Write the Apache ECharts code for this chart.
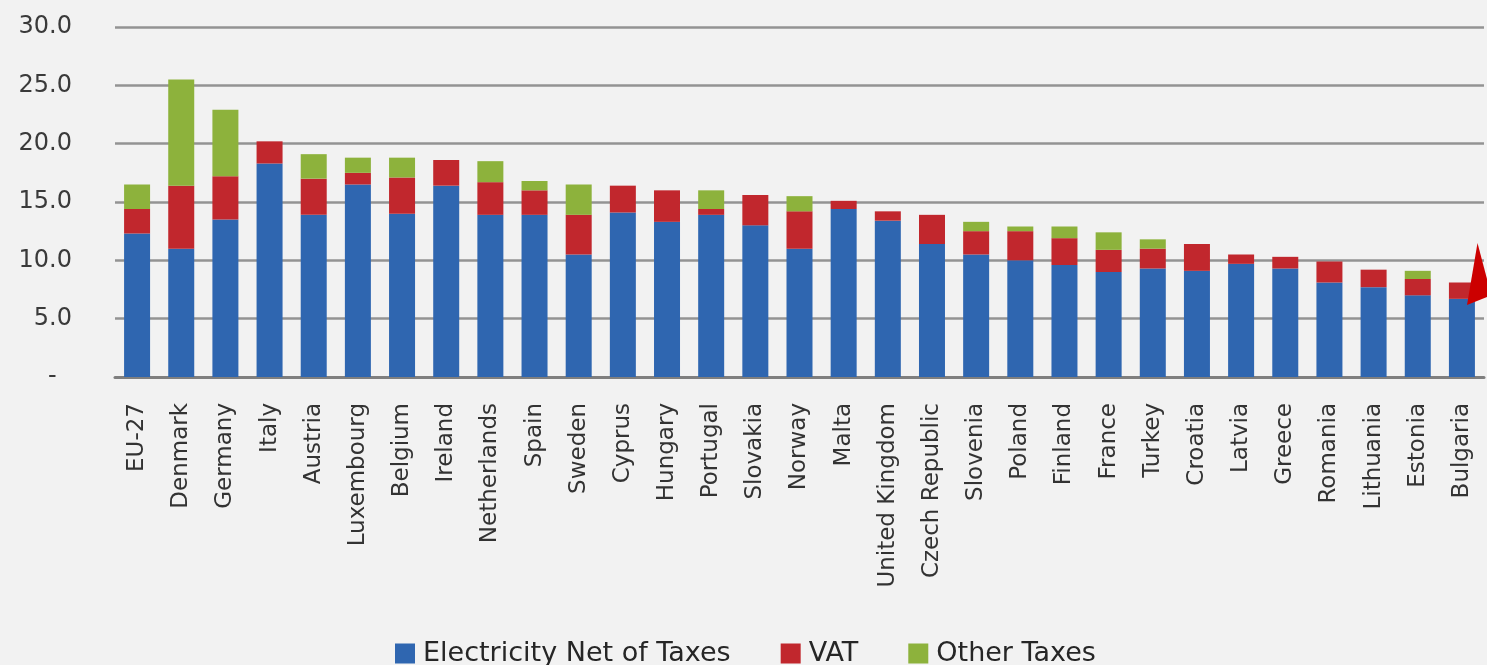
<!DOCTYPE html>
<html>
<head>
<meta charset="utf-8">
<title>Electricity price components by country</title>
<script src="https://cdn.jsdelivr.net/npm/echarts@6/dist/echarts.min.js"></script>
<style>
  html, body { margin: 0; padding: 0; background: #f2f2f2; }
  #chart { width: 1487px; height: 665px; }
</style>
</head>
<body>
<div id="chart"></div>
<script>
// Countries, ordered by total price
const categories = [
  'EU-27', 'Denmark', 'Germany', 'Italy', 'Austria', 'Luxembourg', 'Belgium',
  'Ireland', 'Netherlands', 'Spain', 'Sweden', 'Cyprus', 'Hungary', 'Portugal',
  'Slovakia', 'Norway', 'Malta', 'United Kingdom', 'Czech Republic', 'Slovenia',
  'Poland', 'Finland', 'France', 'Turkey', 'Croatia', 'Latvia', 'Greece',
  'Romania', 'Lithuania', 'Estonia', 'Bulgaria'
];

// Price components per country
const netOfTaxes = [
  12.3, 11.0, 13.5, 18.3, 13.9, 16.5, 14.0,
  16.4, 13.9, 13.9, 10.5, 14.1, 13.3, 13.9,
  13.0, 11.0, 14.4, 13.4, 11.4, 10.5,
  10.0, 9.6, 9.0, 9.3, 9.1, 9.7, 9.3,
  8.1, 7.7, 7.0, 6.7
];
const vat = [
  2.1, 5.4, 3.7, 1.9, 3.1, 1.0, 3.1,
  2.2, 2.8, 2.1, 3.4, 2.3, 2.7, 0.5,
  2.6, 3.2, 0.7, 0.8, 2.5, 2.0,
  2.5, 2.3, 1.9, 1.7, 2.3, 0.8, 1.0,
  1.8, 1.5, 1.4, 1.4
];
const otherTaxes = [
  2.1, 9.1, 5.7, 0, 2.1, 1.3, 1.7,
  0, 1.8, 0.8, 2.6, 0, 0, 1.6,
  0, 1.3, 0, 0, 0, 0.8,
  0.4, 1.0, 1.5, 0.8, 0, 0, 0,
  0, 0, 0.7, 0
];

// Value axis ticks
const yMin = 0;
const yMax = 30;
const yStep = 5;

const seriesNames = ['Electricity Net of Taxes', 'VAT', 'Other Taxes'];
const seriesColors = ['#2f66b0', '#c1272d', '#8db23c'];
const seriesData = [netOfTaxes, vat, otherTaxes];

const font = 'DejaVu Sans';

const chart = echarts.init(document.getElementById('chart'), null, { renderer: 'canvas' });

chart.setOption({
  backgroundColor: '#f2f2f2',
  animation: false,
  grid: { left: 115, right: 3, top: 27, bottom: 288, containLabel: false },
  legend: {
    data: seriesNames,
    left: 390,
    top: 635,
    icon: 'rect',
    itemWidth: 20,
    itemHeight: 20,
    itemGap: 50,
    textStyle: { fontFamily: font, fontSize: 27, color: '#262626', padding: [0, 0, 0, 3] }
  },
  xAxis: {
    type: 'category',
    data: categories,
    axisLine: { show: true, lineStyle: { color: '#7f7f7f', width: 3 } },
    axisTick: { show: false },
    axisLabel: {
      rotate: 90,
      interval: 0,
      margin: 26,
      fontFamily: font,
      fontSize: 23,
      color: '#333333'
    }
  },
  yAxis: {
    type: 'value',
    min: yMin,
    max: yMax,
    interval: yStep,
    axisLine: { show: false },
    axisTick: { show: false },
    splitLine: { show: true, lineStyle: { color: '#939393', width: 2.5 } },
    axisLabel: {
      margin: 43,
      fontFamily: font,
      fontSize: 24,
      color: '#3a3a3a',
      formatter: function (v) { return v === 0 ? '-  ' : v.toFixed(1); }
    }
  },
  series: seriesNames.map(function (name, i) {
    return {
      name: name,
      type: 'bar',
      stack: 'price',
      barWidth: 26,
      data: seriesData[i],
      itemStyle: { color: seriesColors[i] }
    };
  }),
  graphic: [{
    // red pointer arrowhead at the lowest bar
    type: 'polygon',
    shape: { points: [[1477.5, 243], [1487, 279], [1487, 297], [1467, 305]] },
    style: { fill: '#cc0000' },
    z: 100
  }]
});
</script>
</body>
</html>
